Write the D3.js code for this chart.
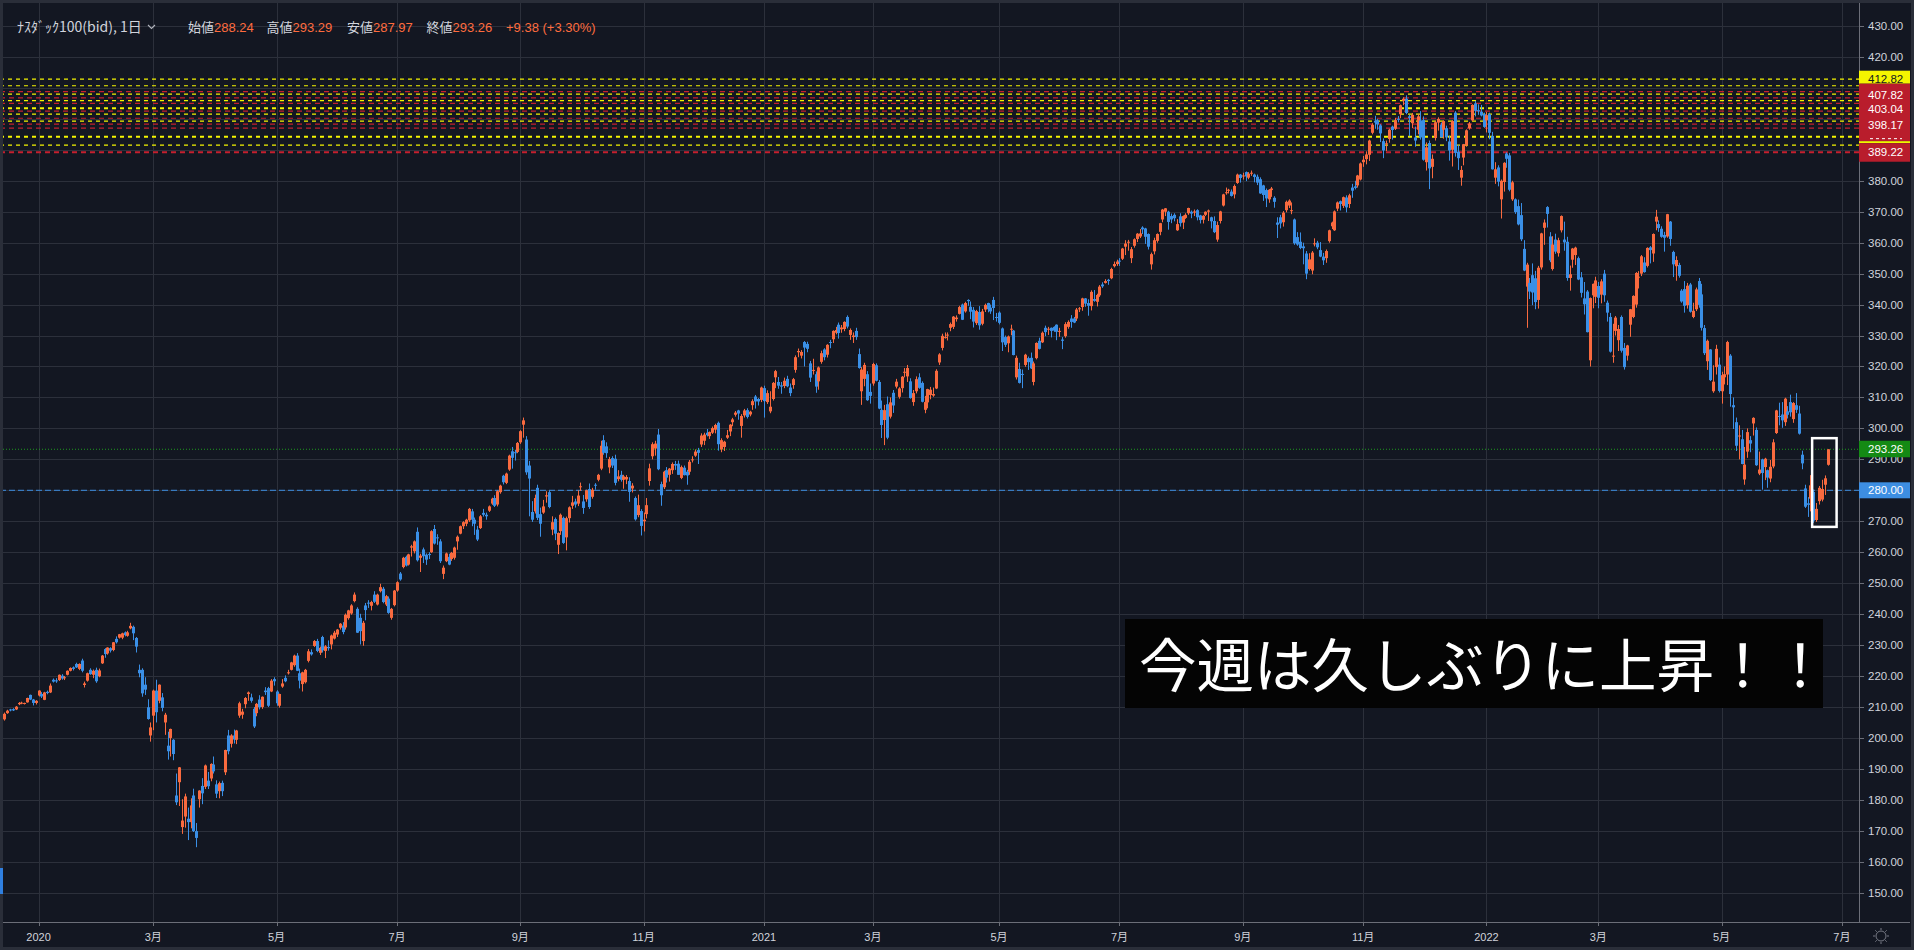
<!DOCTYPE html>
<html>
<head>
<meta charset="utf-8">
<script src="https://cdn.jsdelivr.net/npm/d3@7"></script>
<style>
html, body { margin: 0; padding: 0; background: #131722; overflow: hidden; }
svg { display: block; }
text { font-family: "Liberation Sans", Arial, "Noto Sans CJK JP", sans-serif; }
</style>
</head>
<body>
<div id="chart"></div>
<script>
// ---- chart values (daily bid candles: [open, high, low, close]) ----
const firstDay = "2019-12-13";
const holidays = ["2019-12-25", "2020-01-01", "2020-01-20", "2020-02-17", "2020-04-10", "2020-05-25",
  "2020-07-03", "2020-09-07", "2020-11-26", "2020-12-25", "2021-01-01", "2021-01-18", "2021-02-15",
  "2021-04-02", "2021-05-31", "2021-07-05", "2021-09-06", "2021-11-25", "2021-12-24", "2022-01-17",
  "2022-02-21", "2022-04-15", "2022-05-30", "2022-06-20"];

const ohlc2019 = [
  [206.0,208.2,205.6,207.8],[208.0,209.1,207.8,208.8],[209.2,209.4,208.6,208.9],[209.3,209.6,208.7,208.9],
  [209.2,210.3,209.0,210.1],[210.9,211.6,210.6,211.3],[211.2,211.7,210.9,211.4],[211.0,211.4,210.8,211.3],
  [211.5,213.0,211.4,212.9],[213.9,214.0,212.2,212.4],[212.4,212.6,210.5,211.3],[211.3,212.2,210.8,212.0]
];

const ohlc2020 = [
  // Jan
  [213.7,215.4,213.4,215.3],[214.2,214.8,212.9,213.4],[212.3,214.9,212.2,214.7],[214.9,215.3,214.1,214.5],
  [214.7,217.6,214.5,216.9],[218.8,219.2,217.9,218.2],[218.6,219.3,217.8,218.3],[218.7,220.5,218.4,220.4],
  [220.1,220.6,218.8,219.2],[219.3,220.0,218.7,219.6],[220.4,221.8,220.2,221.7],[221.7,222.8,221.5,222.6],
  [222.8,223.1,221.8,222.3],[223.9,224.3,222.6,222.8],[222.3,224.1,221.9,223.9],[225.0,225.6,221.2,221.7],
  [217.1,218.2,216.3,217.6],[218.5,221.1,218.2,220.9],[222.0,222.5,220.4,220.6],[220.4,222.1,219.3,221.7],
  [222.0,222.7,217.8,218.3],
  // Feb
  [219.9,222.4,219.6,221.8],[224.1,226.8,223.9,226.6],[228.7,229.0,225.9,227.1],[227.3,229.3,226.9,229.2],
  [229.0,229.3,227.6,228.2],[228.4,231.0,228.0,230.9],[232.0,232.8,230.5,230.9],[232.4,233.6,232.1,233.5],
  [232.4,234.0,231.9,233.8],[234.1,234.4,232.8,233.2],[233.0,234.6,232.7,234.1],[235.4,237.2,235.1,236.2],
  [235.9,236.3,231.6,233.8],[232.3,232.6,227.6,229.5],[222.0,223.7,219.6,220.9],[222.0,222.5,213.3,214.4],
  [217.2,219.6,213.9,215.6],[209.9,212.5,205.9,206.1],[200.8,205.0,198.8,203.4],
  // Mar
  [207.2,215.6,202.5,215.3],[215.3,218.8,205.0,208.3],[212.0,217.3,211.2,217.2],[213.1,214.5,208.6,209.7],
  [205.0,208.1,201.0,207.5],[197.5,202.0,193.0,195.7],[200.0,203.0,194.0,202.9],[199.4,199.6,192.8,194.8],
  [181.4,188.5,178.3,179.2],[185.7,190.6,178.0,190.5],[171.2,180.2,169.0,173.3],[174.6,182.0,171.0,181.1],
  [173.9,177.5,167.0,172.8],[172.8,180.5,170.8,178.2],[181.4,183.6,169.6,169.9],[169.9,172.5,164.7,167.7],
  [180.2,183.1,177.5,183.0],[184.5,187.0,178.6,182.1],[184.2,191.4,183.5,191.1],[186.2,189.0,183.5,184.4],
  [186.9,191.8,186.0,191.6],[191.4,194.0,188.5,189.2],
  // Apr
  [185.0,186.3,180.6,182.0],[182.8,185.9,180.5,185.4],[185.5,186.2,181.2,182.8],[188.9,196.2,188.0,196.1],
  [200.8,202.6,194.7,195.7],[198.1,201.2,196.9,200.8],[200.8,202.7,198.2,199.5],[199.4,202.6,198.0,202.4],
  [207.2,211.7,206.5,211.2],[207.5,209.4,206.2,208.5],[210.9,213.2,209.6,212.9],[214.2,215.0,212.0,214.7],
  [213.1,214.3,211.4,212.0],[209.4,210.0,203.2,203.7],[208.0,211.3,207.0,211.0],[212.4,213.8,209.2,209.9],
  [210.0,213.4,209.4,213.3],[215.3,216.4,213.9,214.8],[216.1,216.5,210.0,210.4],[215.0,219.0,214.8,218.5],
  [219.0,219.6,216.9,218.3],
  // May
  [215.0,215.4,210.4,211.2],[210.4,214.3,209.8,214.2],[216.6,219.0,216.2,217.6],[219.4,220.2,218.0,218.3],
  [220.9,222.0,220.5,221.2],[222.0,224.6,221.8,224.4],[223.5,226.9,223.0,226.6],[226.6,227.4,221.6,221.7],
  [220.9,222.4,216.0,218.5],[217.4,221.4,215.0,221.2],[218.0,222.3,217.6,222.0],[224.9,228.7,224.4,228.0],
  [227.7,228.6,226.6,227.0],[229.7,231.6,229.4,231.3],[231.3,232.0,227.7,228.1],[227.5,229.5,226.8,229.1],
  [232.6,233.0,227.6,228.3],[228.1,230.0,225.8,229.6],[229.4,231.5,228.2,229.0],[230.2,233.4,228.6,233.1],
  // Jun
  [232.1,234.6,231.8,234.0],[233.4,235.2,232.6,235.0],[235.6,237.1,235.0,236.9],[236.3,237.4,233.5,234.2],
  [235.7,240.2,235.0,239.8],[238.7,241.4,238.2,241.2],[240.2,243.2,239.8,242.8],[244.2,247.0,243.8,246.3],
  [241.7,242.2,233.9,234.0],[238.8,240.1,230.2,234.5],[231.3,237.8,229.8,237.2],[242.8,243.6,238.0,241.3],
  [243.7,244.5,242.0,243.5],[242.7,244.3,241.2,243.9],[246.3,247.4,243.6,244.0],[243.1,246.6,242.8,246.3],
  [247.4,249.8,247.0,248.7],[248.2,248.8,243.5,243.9],[243.1,246.2,242.6,245.8],[245.0,245.7,240.1,240.4],
  [238.8,242.0,238.2,241.7],[242.9,247.8,242.5,247.6],
  // Jul
  [247.6,250.6,247.2,250.3],[253.1,253.6,250.8,251.2],[255.2,258.5,254.8,258.2],[258.5,258.9,255.4,255.7],
  [256.0,259.5,255.7,259.3],[261.5,262.4,258.6,261.9],[260.3,263.8,259.6,263.5],[266.6,268.0,257.0,257.4],
  [258.2,259.5,253.6,258.9],[260.9,261.5,256.5,258.7],[259.2,259.6,255.9,257.6],[259.4,260.0,257.8,259.2],
  [260.0,267.1,259.8,266.8],[267.5,268.8,262.5,262.8],[264.8,265.8,262.4,264.5],[263.5,264.2,256.5,257.1],
  [253.0,255.7,251.3,255.0],[257.1,259.9,256.8,259.6],[258.5,259.5,255.8,256.0],[257.8,260.1,257.2,259.8],
  [258.2,261.8,257.6,261.5],[263.5,265.4,260.8,265.0],
  // Aug
  [266.0,268.6,265.8,268.4],[268.4,270.0,267.5,269.7],[269.2,270.8,268.4,270.5],[270.3,274.3,269.8,274.0],
  [273.2,274.0,268.4,270.5],[270.5,271.2,265.6,269.2],[267.3,268.5,263.6,264.1],[267.8,272.0,267.5,271.6],
  [272.7,274.0,271.5,272.1],[272.1,272.8,270.5,271.6],[273.4,275.1,273.0,274.8],[275.7,277.6,275.3,277.3],
  [277.5,278.4,274.6,275.0],[275.4,280.0,274.8,279.7],[279.4,281.8,278.9,281.5],[284.7,285.0,281.9,282.6],
  [282.4,285.7,282.0,285.4],[286.7,291.5,286.3,291.2],[292.6,294.0,287.0,290.5],[292.3,293.1,289.6,292.0],
  [292.4,295.6,292.0,295.3],
  // Sep
  [295.5,299.4,295.0,299.1],[301.2,303.5,297.0,302.6],[296.4,297.5,285.0,285.8],[288.0,289.5,271.6,283.8],
  [273.0,276.5,269.8,270.5],[273.2,278.6,272.5,277.5],[280.8,281.8,270.4,271.1],[272.3,274.4,265.0,269.2],
  [272.8,276.9,272.4,274.8],[278.0,279.7,276.0,278.4],[279.4,280.0,274.2,274.6],[267.3,271.6,265.5,269.7],
  [270.7,271.2,263.9,266.0],[262.4,266.4,259.4,266.2],[266.8,272.5,265.6,272.1],[271.1,271.5,262.7,263.0],
  [264.8,271.5,260.6,271.0],[271.0,274.8,269.6,274.5],[275.0,278.2,274.0,276.1],[276.4,277.3,274.4,275.4],
  [275.7,280.0,274.9,278.3],
  // Oct
  [281.0,282.5,279.8,281.3],[276.4,278.5,272.4,274.3],[277.1,280.2,276.3,280.0],[280.4,282.2,274.0,274.6],
  [277.9,280.8,277.3,280.2],[281.8,282.3,280.2,281.5],[283.4,285.3,282.9,285.0],[287.0,296.0,286.5,294.4],
  [296.2,297.8,291.5,292.1],[294.2,295.5,290.5,292.0],[287.4,290.8,285.5,290.1],[290.4,291.0,287.2,288.0],
  [290.2,291.5,281.6,282.4],[283.6,286.5,282.9,284.5],[285.0,286.3,282.8,283.4],[283.4,285.0,280.5,284.5],
  [283.5,284.9,282.0,284.3],[283.0,284.2,276.3,279.5],[280.6,282.3,279.3,281.5],[277.5,278.0,270.2,270.6],
  [272.0,278.6,271.3,275.2],[273.3,273.9,265.4,268.5],
  // Nov
  [270.0,272.8,266.7,270.5],[272.3,277.5,270.9,275.2],[283.0,288.6,281.5,287.1],[291.0,295.5,290.0,294.9],
  [293.5,296.0,291.2,295.1],[298.0,299.8,286.5,286.8],[282.0,282.8,275.0,278.4],[281.0,286.3,280.4,286.0],
  [286.5,287.5,282.5,284.1],[285.0,287.2,282.8,287.0],[286.5,289.0,285.3,288.5],[288.5,289.5,286.6,288.0],
  [288.6,289.6,285.0,285.0],[284.0,288.0,283.6,287.5],[287.3,288.0,284.8,284.9],[286.0,286.6,281.8,284.8],
  [286.0,289.8,285.0,289.2],[290.0,291.0,289.0,290.0],[291.2,293.2,290.8,292.5],[293.0,293.7,288.5,292.1],
  // Dec
  [294.8,298.4,294.0,297.7],[296.0,298.6,294.6,298.0],[298.6,299.8,297.4,297.8],[297.5,299.0,296.6,298.8],
  [298.6,300.6,298.2,300.1],[299.6,301.5,298.4,301.1],[301.8,302.2,292.8,294.9],[293.2,296.8,292.3,296.2],
  [294.0,296.0,292.7,295.7],[297.0,299.5,296.6,297.8],[299.0,301.4,297.5,301.2],[302.0,303.4,300.7,302.9],
  [304.4,305.6,303.8,305.1],[305.8,306.0,302.8,304.8],[300.8,304.6,297.0,304.0],[304.2,306.3,303.5,305.8],
  [305.9,306.5,303.2,303.7],[304.5,305.7,303.9,305.4],[307.5,309.4,306.0,308.8],[310.3,310.8,306.4,308.7],
  [309.5,309.8,307.4,308.7],[309.2,313.5,308.5,313.2]
];

const ohlc2021 = [
  // Jan
  [313.0,313.8,303.5,308.8],[308.5,312.3,307.9,311.4],[305.5,312.0,304.9,307.0],[309.5,315.0,309.0,314.7],
  [316.5,318.9,313.0,318.5],[315.0,316.6,312.8,313.8],[313.9,315.0,311.2,313.5],[313.7,316.4,313.0,315.4],
  [316.0,317.0,313.3,313.6],[313.2,314.5,310.4,311.4],[314.0,316.3,312.8,315.9],[318.9,323.6,318.0,323.0],
  [324.6,325.8,323.0,325.0],[323.5,325.3,322.6,324.7],[327.9,328.2,320.0,326.1],[327.3,328.0,324.6,325.7],
  [321.0,321.8,315.0,316.4],[318.6,322.5,317.4,318.9],[317.5,318.4,311.5,313.5],
  // Feb
  [315.2,320.0,312.5,319.7],[321.5,325.1,320.9,324.3],[325.5,325.9,322.0,323.0],[323.8,327.2,322.9,327.0],
  [327.9,328.6,325.9,327.8],[328.8,331.7,327.6,331.5],[330.9,332.8,330.4,331.8],[333.5,334.2,329.0,330.8],
  [332.0,333.4,330.9,332.6],[332.1,334.6,331.4,334.4],[336.0,336.5,332.3,332.9],[330.2,332.3,328.6,331.8],
  [329.5,331.0,327.6,330.0],[331.5,332.5,328.6,329.5],[324.0,325.8,319.3,319.5],[312.0,319.8,307.6,319.0],
  [316.0,321.2,313.6,320.5],[317.5,318.5,308.9,309.1],[311.8,314.5,308.0,310.5],
  // Mar
  [314.5,321.2,313.8,320.8],[320.4,321.0,315.2,315.4],[315.0,315.6,306.2,306.4],[306.0,309.0,296.9,301.1],
  [302.7,307.6,294.6,305.9],[307.8,310.3,296.5,297.0],[303.8,310.0,303.2,308.4],[311.5,312.4,305.0,307.4],
  [313.5,316.0,312.9,315.1],[310.2,313.3,309.6,312.9],[313.0,316.9,311.6,316.7],[318.0,319.5,316.5,318.3],
  [316.8,320.5,315.0,319.5],[315.2,316.2,309.6,309.8],[308.5,312.4,307.3,311.4],[312.0,316.8,311.3,315.9],
  [316.5,317.8,312.8,313.1],[314.7,315.2,308.4,308.6],[306.0,310.5,304.9,308.5],[308.4,312.8,306.5,312.7],
  [310.8,313.4,309.4,312.5],[310.6,313.2,310.2,311.1],[312.9,319.1,312.7,318.6],
  // Apr
  [321.3,324.3,320.5,323.9],[326.0,330.6,325.2,329.9],[329.4,331.0,329.0,329.5],[330.3,331.0,328.4,330.3],
  [332.5,334.2,331.4,333.7],[332.8,336.3,332.1,336.1],[335.3,336.5,334.5,335.8],[337.0,339.6,336.8,339.2],
  [340.0,340.3,335.0,335.1],[337.8,340.9,337.4,340.5],[341.5,341.7,339.6,341.1],[339.3,341.0,335.3,337.7],
  [338.3,339.2,332.6,334.5],[334.0,338.3,333.4,337.9],[337.6,339.5,331.9,333.3],[333.8,338.6,333.3,337.8],
  [338.4,340.3,337.6,339.9],[340.5,340.6,337.5,338.5],[339.0,340.0,337.0,337.8],[341.5,342.5,335.0,338.9],
  [336.0,337.3,334.5,335.9],
  // May
  [337.4,337.8,333.6,334.1],[332.3,332.6,325.0,327.8],[329.5,330.0,326.3,327.0],[327.5,330.0,324.6,329.7],
  [331.9,333.5,330.1,332.2],[331.6,331.8,323.6,323.7],[316.5,323.5,315.8,322.8],[319.2,321.2,314.5,314.7],
  [317.6,319.0,313.0,317.3],[320.5,324.1,319.9,323.8],[322.7,323.2,318.9,321.4],[322.8,324.5,319.2,319.4],
  [315.0,321.6,313.9,321.0],[322.7,327.8,322.3,327.6],[328.3,329.3,325.5,325.7],[327.8,331.3,327.6,330.9],
  [332.5,333.2,329.8,331.1],[332.0,332.8,330.2,332.2],[332.5,332.6,329.4,331.5],[332.8,333.0,331.2,331.6],
  // Jun
  [333.5,333.6,328.5,331.2],[331.2,332.5,329.6,331.5],[328.7,329.5,325.6,328.3],[329.8,334.3,329.3,333.7],
  [332.8,334.9,332.2,334.4],[335.5,336.6,332.5,334.4],[335.5,336.0,334.0,334.2],[335.5,338.9,334.7,338.4],
  [338.7,339.2,337.6,338.8],[339.2,342.2,338.0,342.0],[342.0,342.1,339.3,340.3],[340.5,341.7,336.4,339.6],
  [339.5,344.6,338.1,344.1],[341.8,344.7,340.9,341.2],[340.9,343.5,339.4,343.1],[343.0,346.3,342.5,345.8],
  [346.5,347.2,345.4,345.9],[347.0,348.2,346.8,347.6],[348.0,348.3,346.4,347.6],[348.5,351.9,348.2,351.5],
  [352.4,353.9,352.0,353.1],[353.1,354.5,352.5,353.9],
  // Jul
  [354.2,355.0,352.5,354.1],[354.8,358.3,354.4,358.1],[358.7,360.8,356.0,359.7],[360.2,360.9,357.4,360.3],
  [355.0,358.6,353.4,357.9],[359.0,361.4,358.4,361.1],[361.2,363.1,360.2,362.9],[362.0,364.4,361.5,363.0],
  [364.9,365.3,362.8,364.3],[364.6,364.8,359.6,361.9],[362.8,363.0,357.8,358.7],[353.0,356.8,351.3,356.3],
  [357.2,361.6,356.2,360.8],[360.6,363.0,360.0,362.8],[363.5,366.4,362.4,366.3],[367.5,370.9,366.6,370.7],
  [370.0,371.2,368.6,371.1],[370.0,370.3,364.2,366.7],[368.6,369.4,366.3,367.5],[369.0,369.5,366.9,367.9],
  [364.0,367.6,363.8,366.0],
  // Aug
  [368.5,369.5,365.2,366.3],[366.5,368.8,364.4,368.6],[368.0,369.5,367.7,369.0],[369.5,371.3,369.0,371.2],
  [370.0,370.4,367.9,369.4],[369.7,370.7,368.6,370.1],[370.5,370.8,367.2,368.2],[368.8,369.0,366.2,367.3],
  [367.4,368.9,366.2,368.7],[369.0,370.1,368.6,370.0],[370.0,370.7,367.0,370.4],[368.2,368.4,364.6,366.9],
  [367.0,368.5,363.1,363.4],[361.0,366.8,360.3,365.7],[367.0,370.3,366.2,370.1],[372.0,375.8,371.7,375.6],
  [376.2,377.8,375.5,376.3],[377.0,377.4,375.9,377.1],[376.5,377.2,374.9,375.1],[375.6,378.8,374.3,378.3],
  [379.3,382.3,379.0,382.0],[382.0,382.2,379.4,380.9],
  // Sep
  [381.5,382.6,380.4,381.7],[382.8,383.0,379.9,381.4],[381.0,382.8,380.5,382.3],[382.5,383.3,381.6,382.6],
  [382.0,382.3,379.5,381.2],[381.3,382.0,378.6,379.4],[380.5,381.1,375.8,375.9],[378.5,378.7,373.5,375.4],
  [377.0,377.5,371.5,374.3],[374.0,377.3,372.9,377.1],[377.0,378.0,374.8,377.5],[374.5,375.0,371.3,373.2],
  [366.5,368.2,361.5,365.8],[368.2,369.0,364.6,366.2],[366.6,370.2,365.2,369.7],[370.5,373.6,369.8,373.2],
  [372.0,374.0,371.2,373.6],[370.5,373.0,369.2,370.5],[367.5,367.8,359.3,359.8],[361.8,363.4,359.0,359.4],
  [360.3,363.3,357.9,358.3],
  // Oct
  [358.8,360.0,353.0,358.2],[356.5,357.3,348.2,350.0],[351.5,356.6,351.0,354.6],[351.0,357.3,349.8,356.8],
  [359.5,361.4,358.8,359.8],[360.0,360.6,357.9,358.5],[357.6,360.2,355.3,355.5],[355.5,356.7,352.8,354.3],
  [355.0,357.8,353.5,357.3],[360.5,364.2,360.0,364.0],[365.3,366.8,364.4,366.5],[364.0,370.4,363.8,370.1],
  [371.0,373.3,370.2,373.0],[373.4,373.6,370.4,372.5],[371.9,374.9,371.2,374.7],[374.6,375.3,369.8,371.4],
  [372.5,375.8,371.2,375.3],[377.8,379.0,374.5,376.8],[378.2,380.0,377.2,377.7],[378.5,381.9,377.8,381.7],
  [380.4,385.9,380.1,385.6],
  // Nov
  [386.0,388.0,384.5,386.8],[387.0,389.5,385.3,388.5],[388.4,393.3,386.4,393.0],[395.5,398.6,395.0,398.1],
  [399.4,401.0,396.8,398.8],[399.5,400.0,396.5,398.2],[397.9,398.3,392.5,395.3],[392.8,393.7,387.3,389.8],
  [392.0,393.0,389.6,392.1],[393.5,396.8,392.3,396.5],[397.5,397.8,393.3,396.4],[396.8,400.3,396.4,399.6],
  [400.0,400.9,398.9,399.9],[401.5,404.6,400.2,404.4],[405.8,407.0,404.4,406.5],[406.5,407.6,401.5,401.9],
  [400.8,401.3,394.4,400.3],[398.6,401.9,397.0,401.3],[394.0,397.5,391.0,393.0],[396.5,401.6,395.0,400.8],
  [399.5,402.5,393.3,394.0],
  // Dec
  [399.6,400.8,386.5,386.8],[386.0,392.4,383.3,390.8],[392.2,393.0,377.3,384.0],[384.5,388.5,380.8,387.1],
  [393.8,399.3,393.0,398.9],[398.8,400.5,396.2,400.0],[398.1,398.8,393.9,394.1],[396.5,399.5,393.6,399.3],
  [397.0,397.8,392.8,394.0],[392.7,394.6,386.5,389.8],[390.0,399.6,384.6,399.3],[402.0,402.5,387.8,389.0],
  [389.4,391.6,383.5,387.3],[381.0,384.8,378.4,383.5],[387.5,391.9,385.0,391.8],[391.5,396.6,391.0,396.3],
  [397.0,399.0,396.5,398.5],[399.5,404.7,399.3,404.5],[405.0,405.8,400.8,402.6],[402.8,404.7,401.3,402.5],
  [402.3,404.5,400.8,401.1],[401.5,402.0,397.1,397.4]
];

const ohlc2022 = [
  // Jan
  [399.5,402.2,395.6,401.2],[401.5,402.0,393.4,395.5],[394.5,395.8,383.6,383.7],[381.0,386.0,379.0,383.7],
  [384.3,385.0,378.2,379.7],[374.0,380.4,367.8,380.0],[379.6,386.0,376.5,385.8],[388.8,389.2,384.2,387.1],
  [388.2,389.0,376.6,377.1],[374.0,380.0,373.5,379.5],[374.0,374.3,369.3,369.9],[371.8,373.9,365.6,365.9],
  [368.9,372.8,360.5,361.1],[358.0,360.8,350.8,351.0],[345.8,353.5,332.5,352.9],[347.0,348.6,341.8,344.2],
  [349.5,353.3,339.8,343.9],[348.5,350.9,338.5,340.8],[341.5,352.5,338.7,351.9],[352.0,363.2,351.3,363.0],
  // Feb
  [364.8,367.5,359.3,366.5],[371.5,371.8,364.9,369.3],[362.0,363.4,353.7,354.3],[351.5,362.1,351.0,359.4],
  [361.0,362.9,356.4,357.1],[356.6,361.6,355.5,360.8],[364.0,368.8,363.3,368.6],[361.0,366.8,357.4,360.1],
  [360.3,361.9,347.7,348.6],[348.6,352.6,344.5,349.8],[354.5,358.3,351.9,358.1],[356.0,358.7,352.8,358.4],
  [355.0,355.5,347.9,348.1],[348.8,350.5,342.3,343.8],[342.0,347.3,336.8,340.1],[344.2,344.7,331.0,331.1],
  [322.0,342.3,320.0,342.1],[343.0,346.8,338.8,346.7],[342.5,349.0,340.5,347.8],
  // Mar
  [346.0,347.3,338.8,342.2],[343.2,348.2,340.4,347.5],[350.0,351.2,340.9,343.0],[340.6,341.3,334.5,337.4],
  [336.0,337.3,324.5,324.8],[323.5,333.8,321.2,323.5],[331.5,336.3,330.0,335.8],[328.5,333.4,325.0,332.1],
  [336.0,336.5,324.5,325.1],[326.0,327.6,319.0,319.8],[323.5,327.0,321.9,326.8],[333.5,338.6,329.6,338.5],
  [336.0,343.0,335.6,342.8],[340.0,350.5,339.0,350.2],[348.8,350.8,345.2,349.0],[350.0,356.0,349.2,355.6],
  [353.6,355.3,350.3,350.5],[352.5,358.5,352.0,358.3],[358.5,358.9,353.3,357.6],[356.5,363.0,353.8,362.8],
  [366.8,370.6,364.0,368.4],[366.0,367.2,363.5,364.7],[364.5,365.3,361.6,361.9],
  // Apr
  [362.5,363.5,357.1,361.6],[362.0,369.3,361.6,369.2],[366.8,367.0,359.0,361.2],[357.0,357.4,348.9,353.0],
  [352.4,355.6,347.7,354.4],[352.8,353.5,348.7,349.3],[344.5,345.0,340.6,341.0],[345.0,347.6,337.4,339.6],
  [339.8,347.0,338.7,346.1],[346.5,347.0,337.4,337.7],[336.0,340.6,335.6,338.0],[338.5,345.5,337.9,344.9],
  [347.6,348.6,339.0,339.9],[343.3,346.7,331.6,332.5],[332.4,333.4,323.7,324.3],[321.7,328.7,318.9,328.3],
  [325.5,325.6,315.3,315.6],[312.0,320.4,311.5,315.1],[319.8,327.0,317.4,325.7],[320.6,322.9,311.6,312.1],
  // May
  [312.0,318.3,308.0,317.2],[316.5,320.0,314.2,317.5],[317.4,328.3,314.0,327.9],[323.5,324.0,307.0,311.1],
  [307.5,310.0,299.8,306.8],[302.0,303.5,292.7,294.4],[297.4,301.0,290.0,297.7],[296.5,299.5,288.4,288.5],
  [283.5,294.0,281.8,288.3],[292.5,300.0,290.5,298.8],[296.2,297.5,292.3,295.1],[301.6,303.6,297.7,303.4],
  [299.5,300.3,287.9,288.1],[285.4,292.5,284.9,286.7],[290.0,290.2,280.2,285.6],[287.5,290.5,283.3,290.2],
  [286.5,286.7,280.8,284.1],[283.8,289.8,282.6,287.6],[287.7,296.5,287.1,295.5],[298.5,306.0,298.2,305.8],
  [304.0,308.3,301.0,303.8],
  // Jun
  [304.5,308.5,300.2,302.6],[302.0,309.9,300.8,309.6],[305.5,307.2,303.2,304.4],[308.5,310.9,303.8,305.2],
  [303.0,308.5,301.8,308.2],[307.5,311.4,305.0,306.0],[304.8,307.3,298.0,298.3],[291.5,292.8,286.8,288.7],
  [280.6,281.8,274.3,274.7],[275.8,277.8,271.4,275.3],[277.3,284.9,273.2,281.6],[279.5,280.2,269.5,270.2],
  [270.4,275.9,269.8,274.0],[276.5,281.4,275.4,280.8],[277.0,283.4,276.4,280.4],[281.8,284.8,278.5,283.88],
  [288.24,293.29,287.97,293.26]
];

const priceTicks = [150,160,170,180,190,200,210,220,230,240,250,260,270,280,290,300,310,320,330,340,350,360,370,380,390,400,410,420,430];
const monthTicks = [["2020-01","2020"],["2020-03","3月"],["2020-05","5月"],["2020-07","7月"],["2020-09","9月"],["2020-11","11月"],
  ["2021-01","2021"],["2021-03","3月"],["2021-05","5月"],["2021-07","7月"],["2021-09","9月"],["2021-11","11月"],
  ["2022-01","2022"],["2022-03","3月"],["2022-05","5月"],["2022-07","7月"]];

// horizontal levels drawn on the chart
const yellowLevels = [412.82, 410.7, 408.0, 405.9, 403.4, 401.5, 399.3, 394.2, 391.5];
const redLevels = [408.8, 406.8, 405.0, 402.5, 400.2, 398.3, 397.0, 389.22];
const redTagLabels = [407.82, 403.04, 398.17];
const lastClose = 293.26;
const markLevel = 280.00;

const legendItems = [["始値", "288.24"], ["高値", "293.29"], ["安値", "287.97"], ["終値", "293.26"]];
const legendChange = "+9.38 (+3.30%)";
const symbolTitle = "ﾅｽﾀﾞｯｸ100(bid), 1日";
const noteText = "今週は久しぶりに上昇！！";

// ---- layout ----
const W = 1914, H = 950;
const plotRight = 1859, axisBottom = 922;
const UP = "#f96a3f", DOWN = "#3a8fe6";

const rows = [].concat(ohlc2019, ohlc2020, ohlc2021, ohlc2022);
const candles = rows.map((r, i) => ({ i: i, o: r[0], h: r[1], l: r[2], c: r[3] }));

// trading calendar (weekdays without exchange holidays), a few days past the last bar
const hol = new Set(holidays);
const fmt = d3.utcFormat("%Y-%m-%d");
const dates = [];
let day = new Date(firstDay + "T00:00:00Z");
while (dates.length < rows.length + 8) {
    const wd = day.getUTCDay();
    const key = fmt(day);
    if (wd !== 0 && wd !== 6 && !hol.has(key)) dates.push(key);
    day = d3.utcDay.offset(day, 1);
}

const x = d3.scaleLinear().domain([0, 636]).range([4.2, 1827.6]);
const y = d3.scaleLinear().domain([150, 430]).range([892.7, 26]);

const ticks = monthTicks.map(([ym, label]) => ({ idx: dates.findIndex(d => d.startsWith(ym)), label: label }));

const svg = d3.select("#chart").append("svg")
    .attr("width", W).attr("height", H)
    .attr("viewBox", `0 0 ${W} ${H}`);

svg.append("rect").attr("width", W).attr("height", H).attr("fill", "#131722");

// grid
const grid = svg.append("g").attr("class", "grid");
grid.selectAll(".hgrid").data(priceTicks).enter().append("line")
    .attr("class", "hgrid")
    .attr("x1", 0).attr("x2", plotRight)
    .attr("y1", d => Math.round(y(d)) + 0.5).attr("y2", d => Math.round(y(d)) + 0.5)
    .attr("stroke", "#2c303b").attr("stroke-width", 1);
grid.selectAll(".vgrid").data(ticks).enter().append("line")
    .attr("class", "vgrid")
    .attr("x1", d => Math.round(x(d.idx)) + 0.5).attr("x2", d => Math.round(x(d.idx)) + 0.5)
    .attr("y1", 0).attr("y2", axisBottom)
    .attr("stroke", "#2c303b").attr("stroke-width", 1);

// drawn horizontal levels
const levels = svg.append("g").attr("class", "levels");
levels.selectAll(".yl").data(yellowLevels).enter().append("line")
    .attr("class", "yl")
    .attr("x1", 0).attr("x2", plotRight)
    .attr("y1", d => y(d)).attr("y2", d => y(d))
    .attr("stroke", "#f5f500")
    .attr("stroke-width", (d, i) => (i === 4 || i === 7) ? 2 : 1.2)
    .attr("stroke-dasharray", "4,4");
levels.selectAll(".rl").data(redLevels).enter().append("line")
    .attr("class", "rl")
    .attr("x1", 0).attr("x2", plotRight)
    .attr("y1", d => y(d)).attr("y2", d => y(d))
    .attr("stroke", "#c4202f")
    .attr("stroke-width", (d, i) => i === redLevels.length - 1 ? 2.2 : 1.2)
    .attr("stroke-dasharray", "5,4");

levels.append("line")
    .attr("x1", 0).attr("x2", plotRight)
    .attr("y1", y(lastClose)).attr("y2", y(lastClose))
    .attr("stroke", "#1f9a1f").attr("stroke-width", 1).attr("stroke-dasharray", "1,2");
levels.append("line")
    .attr("x1", 0).attr("x2", plotRight)
    .attr("y1", y(markLevel)).attr("y2", y(markLevel))
    .attr("stroke", "#3d8ee2").attr("stroke-width", 1).attr("stroke-dasharray", "6,3");

// candles
const bars = svg.append("g").attr("class", "candles");
const candle = bars.selectAll(".candle").data(candles).enter().append("g").attr("class", "candle");
candle.append("line")
    .attr("x1", d => Math.round(x(d.i)) + 0.5).attr("x2", d => Math.round(x(d.i)) + 0.5)
    .attr("y1", d => y(d.h)).attr("y2", d => y(d.l))
    .attr("stroke", d => d.c >= d.o ? UP : DOWN).attr("stroke-width", 1);
candle.append("rect")
    .attr("x", d => Math.round(x(d.i)) - 1)
    .attr("width", 3)
    .attr("y", d => y(Math.max(d.o, d.c)))
    .attr("height", d => Math.max(1, Math.abs(y(d.o) - y(d.c))))
    .attr("fill", d => d.c >= d.o ? UP : DOWN);

// frame around the last week
const lastWeek = candles.slice(-5);
svg.append("rect")
    .attr("x", x(lastWeek[0].i) - 4).attr("y", y(d3.max(lastWeek, d => d.h)) - 11)
    .attr("width", x(lastWeek[4].i) - x(lastWeek[0].i) + 13)
    .attr("height", y(d3.min(lastWeek, d => d.l)) - y(d3.max(lastWeek, d => d.h)) + 16)
    .attr("fill", "none").attr("stroke", "#ffffff").attr("stroke-width", 2.5);

// note box
const note = svg.append("g").attr("class", "note");
note.append("rect")
    .attr("x", 1125).attr("y", 619).attr("width", 698).attr("height", 89)
    .attr("fill", "#040404");
note.append("text")
    .attr("x", 1139).attr("y", 687)
    .attr("fill", "#ffffff")
    .style("font-family", "'Noto Sans CJK JP', sans-serif")
    .style("font-size", "57.5px")
    .text(noteText);

// legend
const legend = svg.append("g").attr("class", "legend").style("font-size", "13px");
legend.append("text").attr("x", 17).attr("y", 32).attr("fill", "#d1d4dc")
    .style("font-family", "'Noto Sans CJK JP', 'Liberation Sans', sans-serif")
    .style("font-size", "14px")
    .text(symbolTitle);
legend.append("path").attr("d", "M148,25 l3.5,3.5 l3.5,-3.5")
    .attr("fill", "none").attr("stroke", "#b2b5be").attr("stroke-width", 1.1);
const legendX = [188, 266.5, 347, 426.5];
legendItems.forEach(([lab, val], k) => {
    const t = legend.append("text").attr("x", legendX[k]).attr("y", 32)
        .style("font-family", "'Noto Sans CJK JP', 'Liberation Sans', sans-serif");
    t.append("tspan").attr("fill", "#d1d4dc").text(lab);
    t.append("tspan").attr("fill", "#ff6c3e").style("font-family", "'Liberation Sans', sans-serif").text(val);
});
legend.append("text").attr("x", 506).attr("y", 32).attr("fill", "#ff6c3e").text(legendChange);

// price axis panel
const pAxis = svg.append("g").attr("class", "price-axis");
pAxis.append("rect").attr("x", plotRight).attr("y", 0).attr("width", W - plotRight).attr("height", H).attr("fill", "#131722");
pAxis.append("line").attr("x1", plotRight + 0.5).attr("x2", plotRight + 0.5).attr("y1", 0).attr("y2", axisBottom)
    .attr("stroke", "#6b6e78");

// tag bands on the axis (label boxes of the drawn levels)
const tagBands = [
    { y0: y(412.82) - 8.5, y1: y(412.82) + 4.5, fill: "#f5f500" },
    { y0: y(412.82) + 4.5, y1: y(391.5) - 4, fill: "#b91d2c" },
    { y0: y(391.5) - 4, y1: y(391.5) - 2, fill: "#f5f500" },
    { y0: y(391.5) - 2, y1: y(389.22) + 9.5, fill: "#b91d2c" },
    { y0: y(lastClose) - 8.5, y1: y(lastClose) + 8, fill: "#148a14" },
    { y0: y(markLevel) - 8, y1: y(markLevel) + 8, fill: "#3d8ee2" }
];
const hiddenByTag = v => tagBands.slice(0, 4).concat([tagBands[5]])
    .some(b => y(v) > b.y0 - 3 && y(v) < b.y1 + 3);
const shownTicks = priceTicks.filter(v => !hiddenByTag(v));

pAxis.selectAll(".ptick").data(priceTicks).enter().append("line")
    .attr("x1", plotRight).attr("x2", plotRight + 5)
    .attr("y1", d => Math.round(y(d)) + 0.5).attr("y2", d => Math.round(y(d)) + 0.5)
    .attr("stroke", "#6b6e78");
pAxis.selectAll(".plabel").data(shownTicks).enter().append("text")
    .attr("x", plotRight + 9).attr("y", d => y(d) + 4)
    .attr("fill", "#d1d4dc").style("font-size", "11.5px")
    .text(d => d3.format(".2f")(d));

pAxis.selectAll(".tag").data(tagBands).enter().append("rect")
    .attr("x", plotRight).attr("y", d => d.y0)
    .attr("width", 51).attr("height", d => d.y1 - d.y0)
    .attr("fill", d => d.fill);
const tagText = (v, fill) => pAxis.append("text").attr("x", plotRight + 9).attr("y", y(v) + 4)
    .attr("fill", fill).style("font-size", "11.5px").text(d3.format(".2f")(v));
tagText(412.82, "#131722");
redTagLabels.forEach(v => tagText(v, "#ffffff"));
pAxis.append("line").attr("x1", plotRight + 11).attr("x2", plotRight + 43)
    .attr("y1", y(393.6)).attr("y2", y(393.6))
    .attr("stroke", "#ffffff").attr("stroke-dasharray", "3,3");
tagText(389.22, "#ffffff");
tagText(lastClose, "#ffffff");
tagText(markLevel, "#ffffff");

// time axis panel
const tAxis = svg.append("g").attr("class", "time-axis");
tAxis.append("rect").attr("x", 0).attr("y", axisBottom).attr("width", W).attr("height", H - axisBottom).attr("fill", "#131722");
tAxis.append("line").attr("x1", 0).attr("x2", W - 4).attr("y1", axisBottom + 0.5).attr("y2", axisBottom + 0.5)
    .attr("stroke", "#6b6e78");
tAxis.selectAll(".ttick").data(ticks).enter().append("line")
    .attr("x1", d => Math.round(x(d.idx)) + 0.5).attr("x2", d => Math.round(x(d.idx)) + 0.5)
    .attr("y1", axisBottom).attr("y2", axisBottom + 4)
    .attr("stroke", "#6b6e78");
tAxis.selectAll(".tlabel").data(ticks).enter().append("text")
    .attr("x", d => x(d.idx)).attr("y", 941)
    .attr("text-anchor", "middle")
    .attr("fill", "#d1d4dc")
    .style("font-size", "11px")
    .style("font-family", "'Liberation Sans', 'Noto Sans CJK JP', sans-serif")
    .text(d => d.label);

// settings icon in the corner
const gear = tAxis.append("g").attr("transform", "translate(1881,936)").attr("stroke", "#787b86").attr("fill", "none");
gear.append("circle").attr("r", 5);
d3.range(8).forEach(k => {
    const a = k * Math.PI / 4;
    gear.append("line").attr("x1", Math.cos(a) * 6).attr("y1", Math.sin(a) * 6)
        .attr("x2", Math.cos(a) * 8).attr("y2", Math.sin(a) * 8);
});

// outer frame
svg.append("rect").attr("x", 1.5).attr("y", 1.5).attr("width", W - 3).attr("height", H - 3)
    .attr("fill", "none").attr("stroke", "#2a2e39").attr("stroke-width", 3);
svg.append("rect").attr("x", 0).attr("y", 868).attr("width", 3).attr("height", 26).attr("fill", "#2f7fe0");
</script>
</body>
</html>
